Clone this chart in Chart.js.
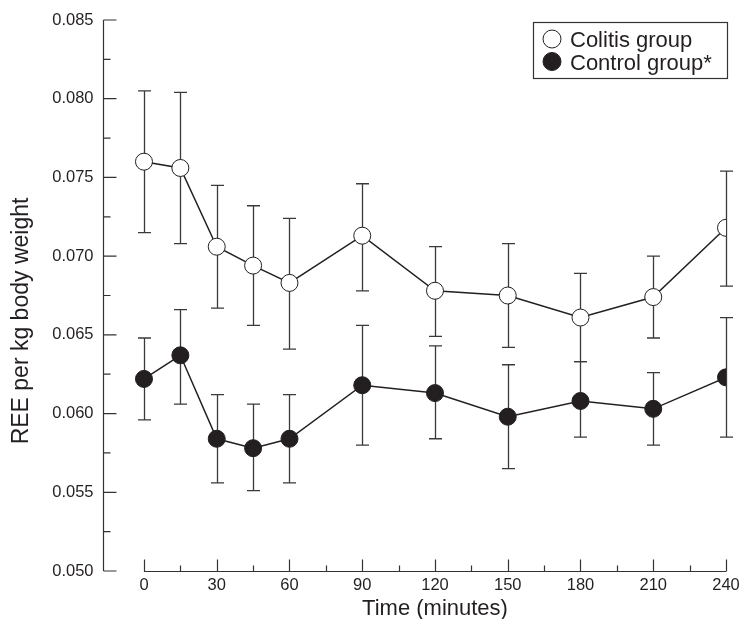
<!DOCTYPE html>
<html>
<head>
<meta charset="utf-8">
<script src="https://cdn.jsdelivr.net/npm/chart.js@4.4.1/dist/chart.umd.min.js"></script>
<style>
  html, body { margin: 0; padding: 0; background: #ffffff; }
  #wrap { width: 741px; height: 619px; position: relative; }
</style>
</head>
<body>
<div id="wrap"><canvas id="c" width="741" height="619"></canvas></div>
<script>
// ---- data ----
const times = [0, 15, 30, 45, 60, 90, 120, 150, 180, 210, 240];
const colitisMean  = [0.0760, 0.0756, 0.0706, 0.0694, 0.0683, 0.0713, 0.0678, 0.0675, 0.0661, 0.0674, 0.0718];
const colitisUpper = [0.0805, 0.0804, 0.0745, 0.0732, 0.0724, 0.0746, 0.0706, 0.0708, 0.0689, 0.0700, 0.0754];
const colitisLower = [0.0715, 0.0708, 0.0667, 0.0656, 0.0641, 0.0678, 0.0649, 0.0642, 0.0633, 0.0648, 0.0681];
const controlMean  = [0.0622, 0.0637, 0.0584, 0.0578, 0.0584, 0.0618, 0.0613, 0.0598, 0.0608, 0.0603, 0.0623];
const controlUpper = [0.0648, 0.0666, 0.0612, 0.0606, 0.0612, 0.0656, 0.0643, 0.0631, 0.0633, 0.0626, 0.0661];
const controlLower = [0.0596, 0.0606, 0.0556, 0.0551, 0.0556, 0.0580, 0.0584, 0.0565, 0.0585, 0.0580, 0.0585];
const yMajorTicks = [0.050, 0.055, 0.060, 0.065, 0.070, 0.075, 0.080, 0.085];
const yMinorTicks = [0.0525, 0.0575, 0.0625, 0.0675, 0.0725, 0.0775, 0.0825];
const xMajorTicks = [0, 30, 60, 90, 120, 150, 180, 210, 240];
const xMinorTicks = [15, 45, 75, 105, 135, 165, 195, 225];
const seriesLabels = ['Colitis group', 'Control group*'];
const xTitle = 'Time (minutes)';
const yTitle = 'REE per kg body weight';

const INK = '#231f20';
const FONT = '"Liberation Sans", Arial, Helvetica, sans-serif';

const toPts = (ys) => times.map((t, i) => ({ x: t, y: ys[i] }));
const errorSets = [
  { upper: colitisUpper, lower: colitisLower },
  { upper: controlUpper, lower: controlLower }
];

const customAxes = {
  id: 'customAxes',
  beforeDatasetsDraw(chart) {
    const ctx = chart.ctx;
    const xs = chart.scales.x, ys = chart.scales.y;
    ctx.save();
    ctx.strokeStyle = '#3a3a3a';
    ctx.lineWidth = 1.3;
    const cap = 6.5;
    errorSets.forEach(es => {
      times.forEach((t, i) => {
        const px = Math.round(xs.getPixelForValue(t)) + 0.5;
        const pu = ys.getPixelForValue(es.upper[i]);
        const pl = ys.getPixelForValue(es.lower[i]);
        ctx.beginPath();
        ctx.moveTo(px, pu); ctx.lineTo(px, pl);
        ctx.moveTo(px - cap, pu); ctx.lineTo(px + cap, pu);
        ctx.moveTo(px - cap, pl); ctx.lineTo(px + cap, pl);
        ctx.stroke();
      });
    });
    ctx.restore();
  },
  afterDraw(chart) {
    const ctx = chart.ctx;
    const xs = chart.scales.x, ys = chart.scales.y;
    const area = chart.chartArea;
    ctx.save();
    ctx.strokeStyle = '#333333';
    ctx.lineWidth = 1.2;
    const ax = Math.round(area.left) + 0.5;
    const yTop = ys.getPixelForValue(yMajorTicks[yMajorTicks.length - 1]);
    const yBot = ys.getPixelForValue(yMajorTicks[0]);
    ctx.beginPath();
    ctx.moveTo(ax, yTop); ctx.lineTo(ax, yBot);
    yMajorTicks.forEach(v => { const p = ys.getPixelForValue(v); ctx.moveTo(ax, p); ctx.lineTo(ax + 13, p); });
    yMinorTicks.forEach(v => { const p = ys.getPixelForValue(v); ctx.moveTo(ax, p); ctx.lineTo(ax + 7, p); });
    ctx.stroke();
    const by = Math.round(yBot) + 0.5;
    const x0 = xs.getPixelForValue(xMajorTicks[0]);
    const x1 = xs.getPixelForValue(xMajorTicks[xMajorTicks.length - 1]);
    ctx.beginPath();
    ctx.moveTo(x0, by); ctx.lineTo(x1, by);
    xMajorTicks.forEach(v => { const p = Math.round(xs.getPixelForValue(v)) + 0.5; ctx.moveTo(p, by); ctx.lineTo(p, by - 12); });
    xMinorTicks.forEach(v => { const p = Math.round(xs.getPixelForValue(v)) + 0.5; ctx.moveTo(p, by); ctx.lineTo(p, by - 6); });
    ctx.stroke();

    ctx.fillStyle = INK;
    ctx.font = '16.5px ' + FONT;
    ctx.textAlign = 'right';
    ctx.textBaseline = 'middle';
    yMajorTicks.forEach(v => ctx.fillText(v.toFixed(3), ax - 10, ys.getPixelForValue(v)));
    ctx.textAlign = 'center';
    ctx.textBaseline = 'top';
    xMajorTicks.forEach(v => ctx.fillText(String(v), xs.getPixelForValue(v), by + 6));

    ctx.font = '22px ' + FONT;
    ctx.textBaseline = 'middle';
    ctx.fillText(xTitle, (x0 + x1) / 2, by + 37);
    ctx.save();
    ctx.font = '23px ' + FONT;
    ctx.translate(22, 321);
    ctx.rotate(-Math.PI / 2);
    ctx.fillText(yTitle, 0, 0);
    ctx.restore();

    const lx = 533.5, ly = 22.5, lw = 194, lh = 56;
    ctx.strokeStyle = '#333333';
    ctx.lineWidth = 1.2;
    ctx.strokeRect(lx, ly, lw, lh);
    const rows = [39, 61.5];
    chart.data.datasets.forEach((ds, i) => {
      ctx.beginPath();
      ctx.arc(552, rows[i], 9, 0, Math.PI * 2);
      ctx.fillStyle = ds.pointBackgroundColor;
      ctx.fill();
      ctx.lineWidth = 1;
      ctx.strokeStyle = INK;
      ctx.stroke();
      ctx.fillStyle = INK;
      ctx.font = '22px ' + FONT;
      ctx.textAlign = 'left';
      ctx.textBaseline = 'alphabetic';
      ctx.fillText(ds.label, 570, rows[i] + 8);
    });
    ctx.restore();
  }
};

new Chart(document.getElementById('c'), {
  type: 'line',
  data: {
    datasets: [
      {
        label: seriesLabels[0],
        data: toPts(colitisMean),
        borderColor: INK,
        borderWidth: 1.5,
        pointRadius: 8.5,
        pointBackgroundColor: '#ffffff',
        pointBorderColor: INK,
        pointBorderWidth: 1,
        tension: 0
      },
      {
        label: seriesLabels[1],
        data: toPts(controlMean),
        borderColor: INK,
        borderWidth: 1.5,
        pointRadius: 8.5,
        pointBackgroundColor: INK,
        pointBorderColor: INK,
        pointBorderWidth: 1,
        tension: 0
      }
    ]
  },
  options: {
    responsive: false,
    animation: false,
    devicePixelRatio: 1,
    layout: { padding: { left: 103, right: 15, top: 20, bottom: 48 } },
    plugins: { legend: { display: false }, tooltip: { enabled: false } },
    scales: {
      x: { type: 'linear', min: -16.9, max: 240, display: false },
      y: { type: 'linear', min: 0.050, max: 0.085, display: false }
    },
    elements: { line: { fill: false } }
  },
  plugins: [customAxes]
});
</script>
</body>
</html>
